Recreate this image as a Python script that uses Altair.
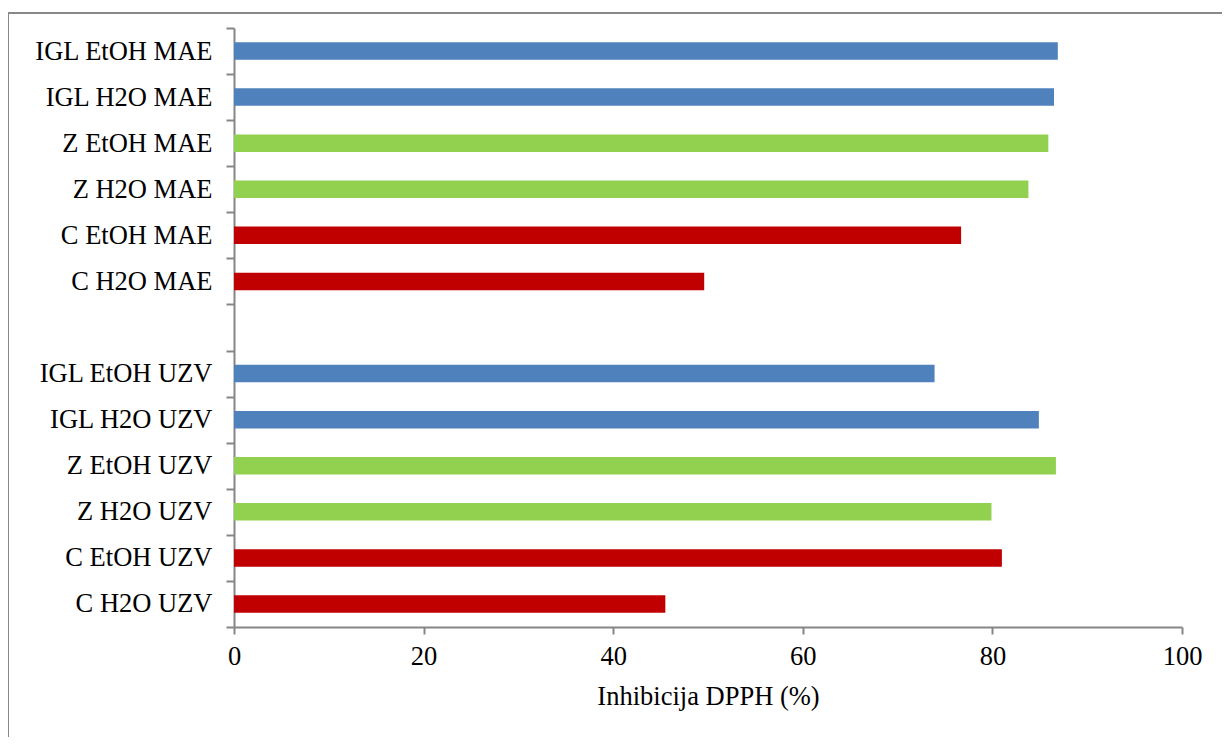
import altair as alt
import pandas as pd

categories = [
    "IGL EtOH MAE", "IGL H2O MAE", "Z EtOH MAE", "Z H2O MAE", "C EtOH MAE", "C H2O MAE",
    "IGL EtOH UZV", "IGL H2O UZV", "Z EtOH UZV", "Z H2O UZV", "C EtOH UZV", "C H2O UZV",
]
values = [86.9, 86.5, 85.9, 83.8, 76.7, 49.6,
          73.9, 84.9, 86.7, 79.9, 81.0, 45.5]
groups = ["IGL", "IGL", "Z", "Z", "C", "C",
          "IGL", "IGL", "Z", "Z", "C", "C"]
order = categories[:6] + [" "] + categories[6:]

df = pd.DataFrame({"cat": categories, "val": values, "grp": groups})

FONT = "Times New Roman, Liberation Serif, serif"
AX = "#868686"

bars = alt.Chart(df).mark_bar(height=alt.RelativeBandSize(0.38)).encode(
    y=alt.Y("cat:N", sort=order,
            scale=alt.Scale(domain=order, paddingInner=0, paddingOuter=0),
            axis=alt.Axis(title=None, tickBand="extent", tickSize=8, tickColor=AX,
                          domainColor=AX, domainWidth=2, tickWidth=2,
                          labelFont=FONT, labelFontSize=26.5, labelColor="black",
                          labelPadding=14, grid=False)),
    x=alt.X("val:Q", scale=alt.Scale(domain=[0, 100], nice=False),
            axis=alt.Axis(title="Inhibicija DPPH (%)", values=[0, 20, 40, 60, 80, 100],
                          tickSize=7, tickColor=AX, domainColor=AX, domainWidth=2, tickWidth=2,
                          labelFont=FONT, labelFontSize=26.5, labelColor="black",
                          labelFlush=False, labelPadding=9,
                          titleFont=FONT, titleFontSize=26.5,
                          titleFontWeight="normal", titleColor="black", titlePadding=14,
                          grid=False)),
    color=alt.Color("grp:N", scale=alt.Scale(domain=["IGL", "Z", "C"],
                                             range=["#4F81BD", "#92D050", "#C00000"]),
                    legend=None),
)

frame = alt.Chart(df).mark_rect(fill=None, stroke="#888888", strokeWidth=2, clip=False).encode(
    x=alt.value(-226.5), x2=alt.value(991.5), y=alt.value(-15), y2=alt.value(730)
)

chart = alt.layer(frame, bars).properties(
    width=948, height=599,
    autosize=alt.AutoSizeParams(type="none"),
    padding={"left": 226, "top": 20, "right": 40, "bottom": 110},
).configure_view(stroke=None)

chart.save("out.html", embed_options={"renderer": "svg", "actions": False})
